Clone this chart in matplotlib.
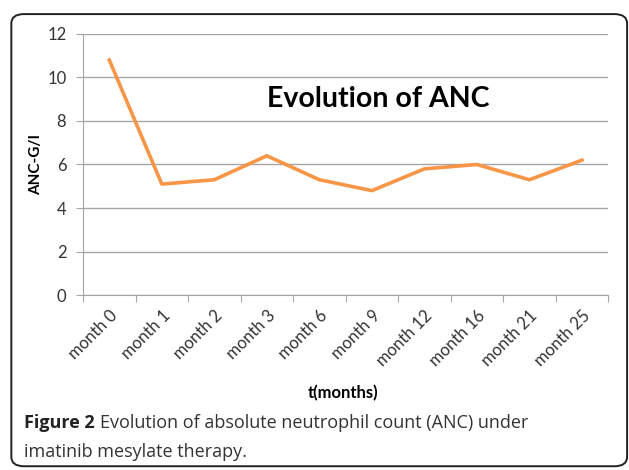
import matplotlib.pyplot as plt
from matplotlib.patches import FancyBboxPatch

# data
months = ["month 0", "month 1", "month 2", "month 3", "month 6",
          "month 9", "month 12", "month 16", "month 21", "month 25"]
anc = [10.8, 5.1, 5.3, 6.4, 5.3, 4.8, 5.8, 6.0, 5.3, 6.2]
yticks = [0, 2, 4, 6, 8, 10, 12]

plt.rcParams['font.family'] = ['Open Sans', 'DejaVu Sans']
chart_font = ['Lato', 'DejaVu Sans']

fig = plt.figure(figsize=(6.29, 4.70), dpi=100)

# rounded frame around the figure
frame = FancyBboxPatch((0.018, 0.008), 0.979, 0.962,
                       boxstyle="round,pad=0,rounding_size=0.02",
                       transform=fig.transFigure, fill=False,
                       edgecolor="#222222", linewidth=1.4)
fig.patches.append(frame)

ax = fig.add_axes([0.132, 0.372, 0.835, 0.556])
x = range(len(months))
ax.plot(x, anc, color="#F79646", linewidth=2.6)

ax.set_xlim(-0.5, len(months) - 0.5)
ax.set_ylim(0, 12)
ax.set_yticks(yticks)
ax.set_yticklabels([str(v) for v in yticks], fontsize=12, family=chart_font,
                   color="#333333")
ax.grid(axis="y", color="#a6a6a6", linewidth=1)
ax.set_axisbelow(True)

# category ticks on the boundaries, labels at the centres
ax.set_xticks([i - 0.5 for i in range(len(months) + 1)])
ax.set_xticklabels([])
ax.set_xticks(list(x), minor=True)
ax.set_xticklabels(months, minor=True, rotation=45, ha="right", va="top",
                   rotation_mode="anchor", fontsize=12, family=chart_font,
                   color="#333333")
ax.tick_params(axis="x", which="minor", length=0, pad=9)
ax.tick_params(axis="x", which="major", length=5, color="#a6a6a6", direction="out")
ax.tick_params(axis="y", length=5, color="#a6a6a6", pad=7)

for s in ["top", "right"]:
    ax.spines[s].set_visible(False)
ax.spines["left"].set_color("#a6a6a6")
ax.spines["bottom"].set_color("#a6a6a6")

ax.set_ylabel("ANC-G/I", fontsize=11, fontweight="bold", family=chart_font)
ax.yaxis.set_label_coords(-0.077, 0.5)
fig.text(0.545, 0.164, "t(months)", ha="center", va="center", fontsize=12,
         fontweight="bold", family=chart_font)

fig.text(0.424, 0.79, "Evolution of ANC", fontsize=20.5,
         fontweight="bold", ha="left", va="center", family=chart_font)

# caption
fig_lbl = fig.text(0.038, 0.100, "Figure 2", fontsize=13, fontweight="bold",
                   va="center", color="#222222")
r = fig.canvas.get_renderer()
bb = fig_lbl.get_window_extent(renderer=r)
x_after = (bb.x1 + 5) / fig.bbox.width
fig.text(x_after, 0.100, "Evolution of absolute neutrophil count (ANC) under",
         fontsize=13, va="center", color="#333333")
fig.text(0.038, 0.038, "imatinib mesylate therapy.", fontsize=13, va="center",
         color="#333333")

fig.savefig("out.png", dpi=100)
